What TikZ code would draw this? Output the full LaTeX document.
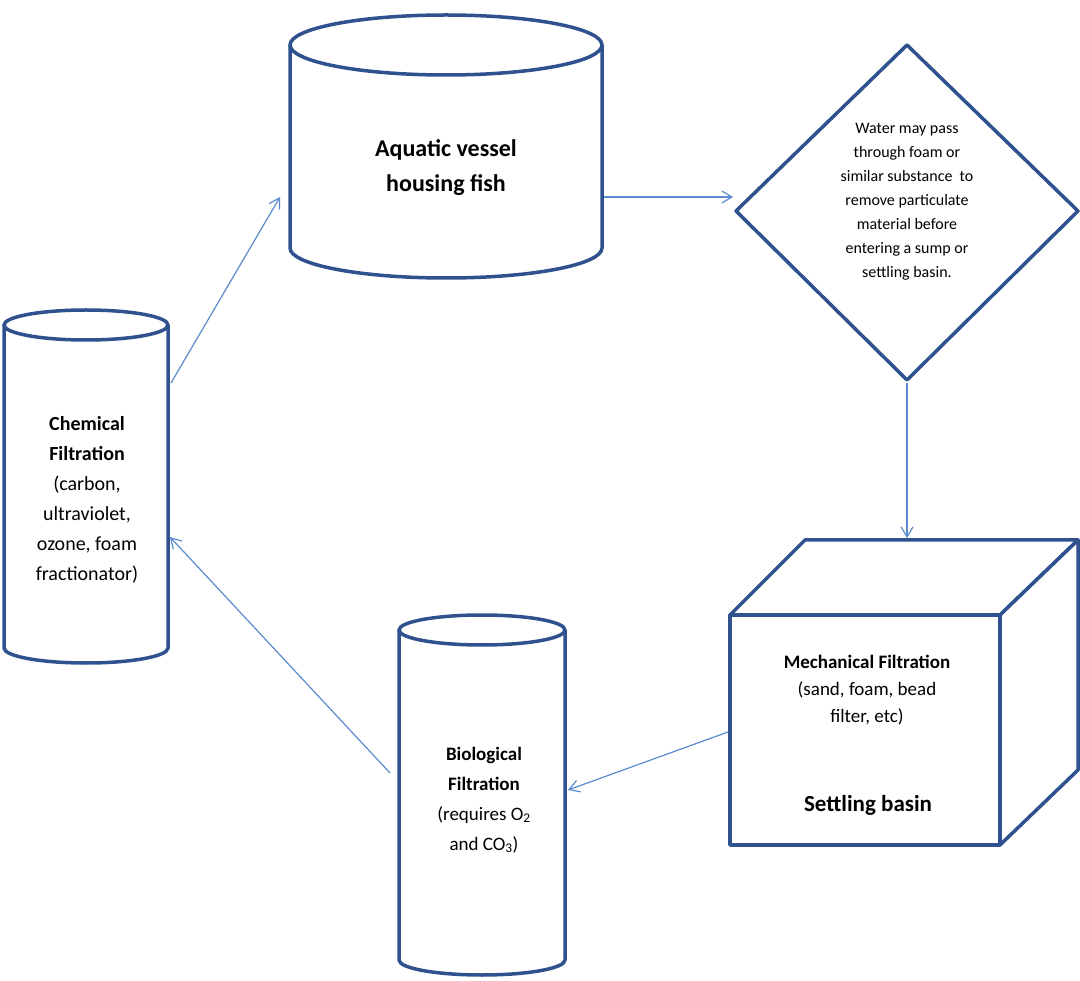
\documentclass[tikz,border=0pt]{standalone}
\usepackage{fontspec}
\setmainfont{Carlito}
\usetikzlibrary{arrows.meta}
\definecolor{edge}{RGB}{47,82,143}
\definecolor{flow}{RGB}{91,139,204}
\tikzset{
  vessel/.style={draw=edge,line width=3.5pt,fill=white,line join=round},
  flowline/.style={flow,line width=1.2pt,-{Straight Barb[length=10pt,width=12pt]}},
  label/.style={align=center,inner sep=0pt}
}
\begin{document}
\begin{tikzpicture}[x=1pt,y=-1pt]
\useasboundingbox (0,0) rectangle (1080,981);

% aquatic vessel
\draw [vessel] (290,45) -- (290,248) arc[start angle=180,end angle=0,x radius=156,y radius=30] -- (602,45);
\draw [vessel] (446,45) ellipse[x radius=156,y radius=30];
\node [label,font=\fontsize{24}{35}\selectfont\bfseries] (tank) at (446,168) {Aquatic vessel\\housing fish};

% diamond
\draw [vessel] (907,45) -- (1078,211) -- (907,380) -- (736,211) -- cycle;
\node [label,font=\fontsize{16}{24}\selectfont] (foam) at (907,202) {Water may pass\\through foam or\\similar substance~~to\\remove particulate\\material before\\entering a sump or\\settling basin.};

% settling basin
\draw [vessel] (730,615) -- (805,540) -- (1078,540) -- (1000,615) -- cycle;
\draw [vessel] (1000,615) -- (1078,540) -- (1078,770) -- (1000,845) -- cycle;
\draw [vessel] (730,615) rectangle (1000,845);
\node [label,font=\fontsize{19}{27}\selectfont] (mech) at (867,690) {\textbf{Mechanical Filtration}\\(sand, foam, bead\\filter, etc)};
\node [label,font=\fontsize{23}{30}\selectfont\bfseries] (basin) at (868,805) {Settling basin};

% biological
\draw [vessel] (399,630) -- (399,960) arc[start angle=180,end angle=0,x radius=83,y radius=15] -- (565,630);
\draw [vessel] (482,630) ellipse[x radius=83,y radius=15];
\node [label,font=\fontsize{19}{30}\selectfont] (bio) at (484,800) {\textbf{Biological}\\\textbf{Filtration}\\(requires O\textsubscript{2}\\and CO\textsubscript{3})};

% chemical
\draw [vessel] (4,325) -- (4,648) arc[start angle=180,end angle=0,x radius=82,y radius=15] -- (168,325);
\draw [vessel] (86,325) ellipse[x radius=82,y radius=15];
\node [label,font=\fontsize{20}{30}\selectfont] (chem) at (87,500) {\textbf{Chemical}\\\textbf{Filtration}\\(carbon,\\ultraviolet,\\ozone, foam\\fractionator)};

% flow
\coordinate (chemOut) at (171,383);
\coordinate (tankIn) at (280,197);
\coordinate (tankOut) at (604,197);
\coordinate (foamIn) at (733,197);
\coordinate (foamOut) at (907,383);
\coordinate (basinIn) at (907,538);
\coordinate (basinOut) at (728,732);
\coordinate (bioIn) at (568,790);
\coordinate (bioOut) at (390,773);
\coordinate (chemIn) at (170,537);
\draw [flowline] (chemOut) -- (tankIn);
\draw [flowline] (tankOut) -- (foamIn);
\draw [flowline] (foamOut) -- (basinIn);
\draw [flowline] (basinOut) -- (bioIn);
\draw [flowline] (bioOut) -- (chemIn);
\end{tikzpicture}
\end{document}
